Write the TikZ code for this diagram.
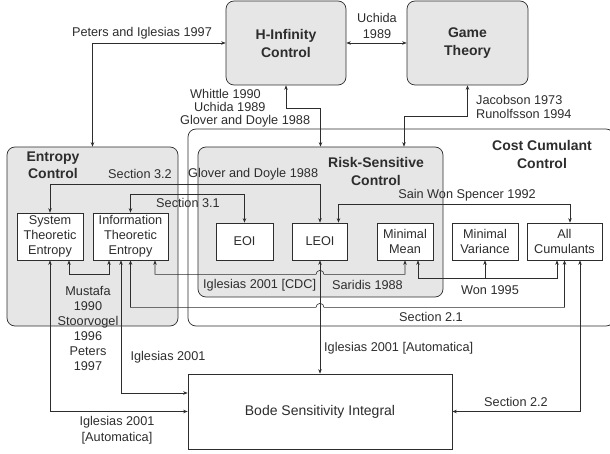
\documentclass[tikz,border=0pt]{standalone}
\usepackage{fontspec}
\setmainfont{Liberation Sans}
\usetikzlibrary{positioning, calc, arrows.meta}
\definecolor{boxgray}{RGB}{230,230,230}
\definecolor{ink}{RGB}{45,45,45}

\begin{document}
\begin{tikzpicture}[
	x=1pt,
	y=-1pt,
	every node/.style={font=\fontsize{12.7}{15}\selectfont, text=ink, inner sep=0pt},
	area box/.style={draw=ink, line width=0.7pt, rounded corners=8pt},
	main box/.style={area box, fill=boxgray, align=center, font=\fontsize{14}{18}\selectfont\bfseries},
	item box/.style={draw=ink, line width=0.7pt, fill=white, align=center},
	heading/.style={align=center, font=\fontsize{14}{18}\selectfont\bfseries},
	link/.style={draw=ink, line width=0.6pt, <->},
	>={Stealth[length=4.5pt, width=3.5pt]}
]
\useasboundingbox (0,0) rectangle (610,454);

% areas
\node [area box, fill=white, minimum width=426pt, minimum height=197pt] (cost) at (401,227.5) {};
\node [area box, fill=boxgray, minimum width=171pt, minimum height=179pt] (entropy) at (92.5,236.5) {};
\node [area box, fill=boxgray, minimum width=245pt, minimum height=150pt] (risk) at (320.5,222) {};

\node [heading] (t-entropy) at (53,165.5) {Entropy\\[-1pt]Control};
\node [heading] (t-risk) at (376,171) {Risk-Sensitive\\Control};
\node [heading] (t-cost) at (542,154) {Cost Cumulant\\Control};

\node [main box, minimum width=120pt, minimum height=84pt] (hinf) at (286,43) {H-Infinity\\Control};
\node [main box, minimum width=121pt, minimum height=84pt] (game) at (467.5,43) {Game\\Theory};

\foreach \n/\x/\y/\w/\h/\t in {
	sys/50/236.5/66/47/{System\\Theoretic\\Entropy},
	info/130.5/236.5/75/47/{Information\\Theoretic\\Entropy},
	eoi/244.5/241.5/57/37/EOI,
	leoi/320/241.5/55/37/LEOI,
	mmean/405/241.5/56/37/{Minimal\\Mean},
	minvar/485/241.5/66/37/{Minimal\\Variance},
	allcum/564.5/241.5/75/37/{All\\Cumulants}}
	\node [item box, minimum width=\w pt, minimum height=\h pt] (\n) at (\x,\y) {\t};

\node [item box, minimum width=264pt, minimum height=75pt, font=\fontsize{14}{17}\selectfont] (bode) at (320,411.5) {Bode Sensitivity Integral};

% links
\draw [link] (hinf.west) -| (entropy.north);
\draw [link] (hinf.east) -- (game.west);
\draw [link] (hinf.south) -- ++(0,23) -| (risk.north);
\draw [link] (game.south) -- ++(0,31) -| ([xshift=83.5pt]risk.north);

\draw [link] (sys.north) -- ++(0,-28) -| (leoi.north);
\draw [link] (info.north) -- ++(0,-18) -| (eoi.north);
\draw [link] ([xshift=18.5pt]leoi.north) -- ++(0,-18) -| ([xshift=5.5pt]allcum.north);

\draw [link] ([xshift=24.5pt]info.south) -- ++(0,14) coordinate (cdc)
	-- ($(cdc -| leoi.south)+(-4,0)$) arc [start angle=180, end angle=0, radius=4pt] -| (mmean.south);
\draw [link] (info.south) -- ++(0,47) coordinate (sec21)
	-- ($(sec21 -| leoi.south)+(-4,0)$) arc [start angle=180, end angle=0, radius=4pt] -| (allcum.south);
\draw [link] ([xshift=13pt]mmean.south) -- ++(0,18) coordinate (won) -| ([xshift=-7.5pt]allcum.south);
\draw [link, <-] (minvar.south) -- (minvar.south |- won);

\draw [link] ([xshift=19pt]sys.south) -- ++(0,14) -| ([xshift=-21.5pt]info.south);
\draw [link] (sys.south) |- (bode.west);
\draw [link] ([xshift=-9.5pt]info.south) |- ([yshift=18.5pt]bode.west);
\draw [link] (leoi.south) -- (bode.north);
\draw [link] ([xshift=15.5pt]allcum.south) |- (bode.east);

% labels
\node (l-peters) at (142,33) {Peters and Iglesias 1997};
\node [align=center] (l-uchida) at (377,26) {Uchida\\[1pt]1989};
\node [align=left, anchor=west, font=\fontsize{12.7}{13}\selectfont] (l-whittle) at (180,108) {\hspace{10pt}Whittle 1990\\\hspace{14pt}Uchida 1989\\Glover and Doyle 1988};
\node [align=left, anchor=west, font=\fontsize{12.7}{14}\selectfont] (l-jacobson) at (476,107) {Jacobson 1973\\Runolfsson 1994};
\node (l-sec32) at (140,174) {Section 3.2};
\node [anchor=west] (l-glover) at (188,174) {Glover and Doyle 1988};
\node (l-sec31) at (188,203) {Section 3.1};
\node (l-sain) at (467,195) {Sain Won Spencer 1992};
\node [anchor=west] (l-cdc) at (203,285) {Iglesias 2001 [CDC]};
\node [anchor=west] (l-saridis) at (332,285) {Saridis 1988};
\node (l-won) at (490,290) {Won 1995};
\node (l-sec21) at (431,317) {Section 2.1};
\node [align=center] (l-mustafa) at (88,328.5) {Mustafa\\1990\\Stoorvogel\\1996\\Peters\\1997};
\node (l-iglesias) at (168,357) {Iglesias 2001};
\node [anchor=west] (l-auto) at (324,348) {Iglesias 2001 [Automatica]};
\node [align=center, font=\fontsize{12.7}{16}\selectfont] (l-auto2) at (117,430) {Iglesias 2001\\{[Automatica]}};
\node (l-sec22) at (516,402) {Section 2.2};

\end{tikzpicture}
\end{document}
